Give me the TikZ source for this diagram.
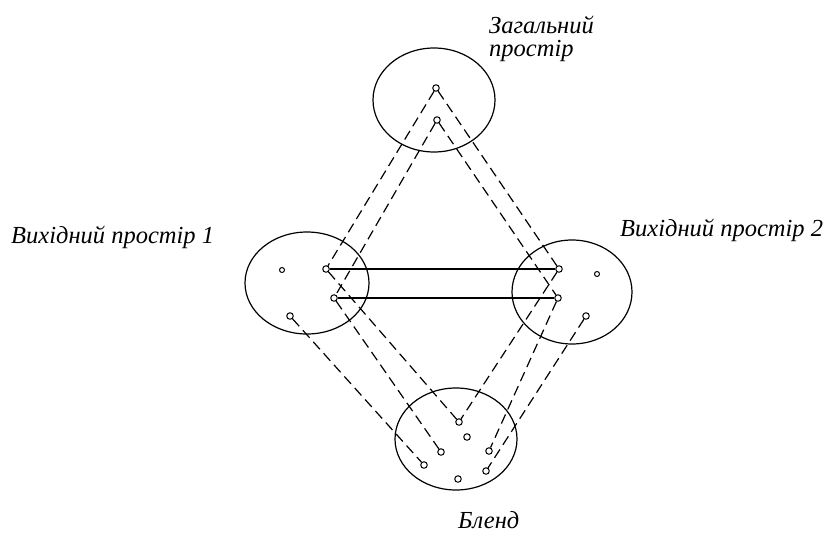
\documentclass[tikz,border=0pt]{standalone}
\usepackage{fontspec}
\setmainfont{Liberation Serif}
\begin{document}
\begin{tikzpicture}[x=1pt,y=-1pt,
  dot/.style={draw,circle,line width=1pt,inner sep=0pt,minimum size=6.5pt},
  link/.style={line width=1.2pt,dash pattern=on 10pt off 5.5pt},
  tie/.style={line width=1.2pt},
  lab/.style={font=\itshape\fontsize{24.5}{23}\selectfont,inner sep=0pt,anchor=base west}]
\useasboundingbox (0,0) rectangle (829,533);
% spaces
\draw[line width=1.2pt] (434,100) ellipse [x radius=61, y radius=52];
\draw[line width=1.2pt] (307,283) ellipse [x radius=62, y radius=51];
\draw[line width=1.2pt] (572,292) ellipse [x radius=60, y radius=52];
\draw[line width=1.2pt] (456,439) ellipse [x radius=61, y radius=51];
% dots: generic
\node[dot] (ga) at (436,88) {};
\node[dot] (gb) at (437,120) {};
% input 1
\node[dot,minimum size=5pt] (l0) at (282,270) {};
\node[dot] (l1) at (326,269) {};
\node[dot] (l2) at (334,298) {};
\node[dot] (l3) at (290,316) {};
% input 2
\node[dot] (r1) at (559,269) {};
\node[dot] (r2) at (558,298) {};
\node[dot,minimum size=5pt] (r0) at (597,274) {};
\node[dot] (r3) at (586,316) {};
% blend
\node[dot] (b1) at (459,422) {};
\node[dot] (b0) at (467,437) {};
\node[dot] (b2) at (441,452) {};
\node[dot] (b3) at (424,465) {};
\node[dot] (b4) at (489,451) {};
\node[dot] (b5) at (486,471) {};
\node[dot] (b6) at (458,479) {};
% solid links
\draw[tie] (l1) -- (r1);
\draw[tie] (l2) -- (r2);
% dashed links from generic space
\draw[link] (ga) -- (l1);
\draw[link] (gb) -- (l2);
\draw[link] (ga) -- (r1);
\draw[link] (gb) -- (r2);
% dashed links to blend
\draw[link] (l1) -- (b1);
\draw[link] (l2) -- (b2);
\draw[link] (l3) -- (b3);
\draw[link] (r1) -- (b1);
\draw[link] (r2) -- (b4);
\draw[link] (r3) -- (b5);
% labels
\node[lab] (tg1) at (489,33) {Загальний};
\node[lab] (tg2) at (489,56) {простір};
\node[lab] (t1) at (11,243) {Вихідний простір 1};
\node[lab] (t2) at (620,236) {Вихідний простір 2};
\node[lab] (tb) at (458,528) {Бленд};
\end{tikzpicture}
\end{document}
